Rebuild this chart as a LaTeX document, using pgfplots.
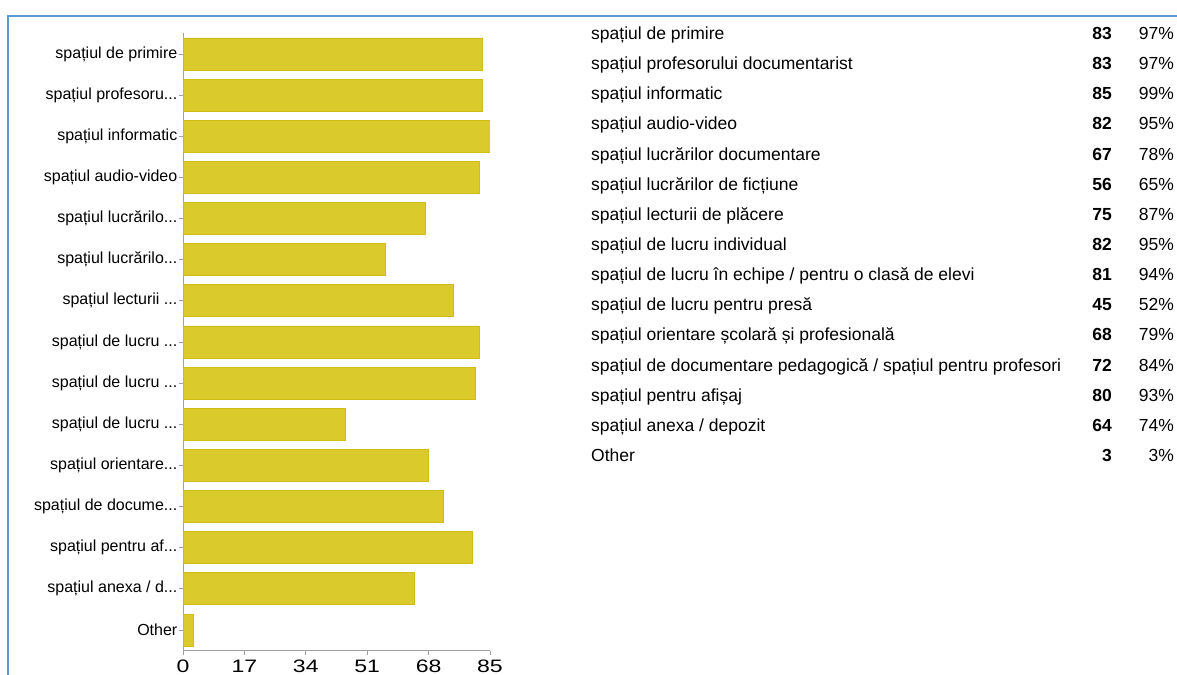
\documentclass[border=0pt]{standalone}
\usepackage{pgfplots}
\pgfplotsset{compat=1.18}
\usepackage{pgfplotstable}
\usepackage{fontspec}
\setmainfont{Liberation Sans}
\newfontfamily\widefont[FakeStretch=1.28]{Liberation Sans}
\definecolor{barfill}{RGB}{218,202,44}
\definecolor{bardraw}{RGB}{208,188,18}
\definecolor{frameblue}{RGB}{91,155,213}
\definecolor{axgray}{RGB}{160,160,160}

\pgfplotstableread{
pos v
14 83
13 83
12 85
11 82
10 67
9 56
8 75
7 82
6 81
5 45
4 68
3 72
2 80
1 64
0 3
}\bardata

\newcommand{\lblfont}{\fontsize{16bp}{19bp}\selectfont}
\newcommand{\numfont}{\widefont\fontsize{18bp}{20bp}\selectfont}
\newcommand{\tabfont}{\fontsize{17.5bp}{20bp}\selectfont}
\newcommand{\el}{.{}.{}.}

\begin{document}
\begin{tikzpicture}
\path[use as bounding box] (0,0) rectangle (1177bp,675bp);
\fill[white] (0,0) rectangle (1177bp,675bp);
\draw[frameblue, line width=2bp] (8.3bp,0) -- (8.3bp,659bp) -- (1177bp,659bp);

\begin{axis}[
  at={(183bp,24.4bp)}, anchor=south west,
  scale only axis, width=307bp, height=617.2bp,
  xmin=0, xmax=85, ymin=-0.5, ymax=14.5,
  xbar, bar width=32bp,
  axis x line*=bottom, axis y line*=left,
  axis line style={axgray, line width=0.8bp, -},
  tick align=outside, major tick length=4.5bp,
  tick style={axgray, line width=0.8bp},
  xtick={0,17,34,51,68,85},
  ytick={0,1,2,3,4,5,6,7,8,9,10,11,12,13,14},
  yticklabels={Other, {spațiul anexa / d\el}, {spațiul pentru af\el}, {spațiul de docume\el}, {spațiul orientare\el}, {spațiul de lucru \el}, {spațiul de lucru \el}, {spațiul de lucru \el}, {spațiul lecturii \el}, {spațiul lucrărilo\el}, {spațiul lucrărilo\el}, {spațiul audio-video}, {spațiul informatic}, {spațiul profesoru\el}, {spațiul de primire}},
  /pgf/number format/assume math mode=true,
  yticklabel style={font=\lblfont, inner sep=1bp},
  xticklabel style={font=\numfont, inner sep=2bp, yshift=-2.5bp},
]
\addplot[fill=barfill, draw=bardraw, line width=0.8bp] table[x=v, y=pos] {\bardata};
\end{axis}

\begin{scope}[font=\tabfont]
\foreach \name/\cnt/\pct [count=\i from 0] in {
  {spațiul de primire}/83/97\%,
  {spațiul profesorului documentarist}/83/97\%,
  {spațiul informatic}/85/99\%,
  {spațiul audio-video}/82/95\%,
  {spațiul lucrărilor documentare}/67/78\%,
  {spațiul lucrărilor de ficțiune}/56/65\%,
  {spațiul lecturii de plăcere}/75/87\%,
  {spațiul de lucru individual}/82/95\%,
  {spațiul de lucru în echipe / pentru o clasă de elevi}/81/94\%,
  {spațiul de lucru pentru presă}/45/52\%,
  {spațiul orientare școlară și profesională}/68/79\%,
  {spațiul de documentare pedagogică / spațiul pentru profesori}/72/84\%,
  {spațiul pentru afișaj}/80/93\%,
  {spațiul anexa / depozit}/64/74\%,
  {Other}/3/3\%}
{
  \pgfmathsetmacro{\yb}{675-(39.5+30.15*\i)}
  \node[anchor=base west, inner sep=0] at (591bp,\yb bp) {\name};
  \node[anchor=base east, inner sep=0, font=\tabfont\bfseries] at (1112bp,\yb bp) {\cnt};
  \node[anchor=base east, inner sep=0] at (1174bp,\yb bp) {\pct};
}
\end{scope}
\end{tikzpicture}
\end{document}
